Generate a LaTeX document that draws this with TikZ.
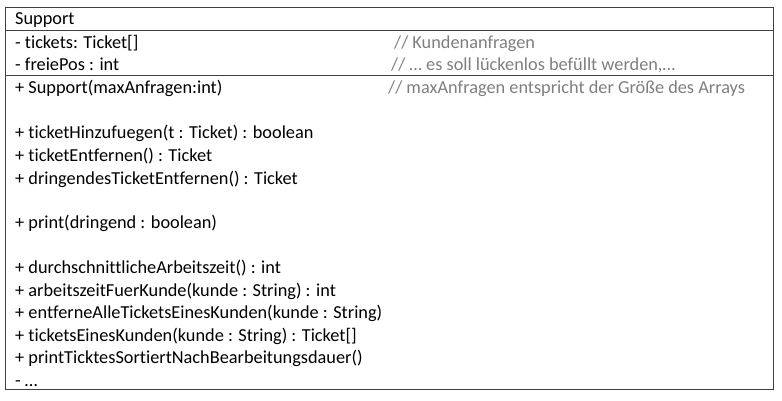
\documentclass[tikz,border=0pt]{standalone}
\usepackage{fontspec}
\setmainfont[Ligatures=NoCommon]{Carlito}
\definecolor{frame}{HTML}{3F3F3F}
\definecolor{remark}{HTML}{7F7F7F}
\begin{document}
\begin{tikzpicture}[x=1pt,y=-1pt,
  member/.style={anchor=base west,inner sep=0pt,font=\fontsize{18.3}{20}\selectfont},
  remarktext/.style={member,text=remark},
  border/.style={draw=frame,line width=1.3pt}]
\useasboundingbox (0,0) rectangle (782,401);
\fill[white] (0,0) rectangle (782,401);
% class frame and compartments
\coordinate (tl) at (5.5,7.5);
\coordinate (br) at (773.5,389.5);
\draw[border] (tl) rectangle (br);
\draw[border,line width=1pt] (5.5,31) -- (773.5,31);
\draw[border,line width=1pt] (5.5,76) -- (773.5,76);
% class name
\node[member] (name) at (15,25) {Support};
% attributes
\node[member] (a1) at (15,49) {- tickets: Ticket[]};
\node[member] (a2) at (15,71) {- freiePos : int};
\node[remarktext] (c1) at (394,49) {// Kundenanfragen};
\node[remarktext] (c2) at (391,71) {// … es soll lückenlos befüllt werden,…};
% operations
\node[member] (m1) at (15,94) {+ Support(maxAnfragen:int)};
\node[remarktext] (c3) at (388,94) {// maxAnfragen entspricht der Größe des Arrays};
\node[member] (m2) at (15,139) {+ ticketHinzufuegen(t : Ticket) : boolean};
\node[member] (m3) at (15,162) {+ ticketEntfernen() : Ticket};
\node[member] (m4) at (15,184) {+ dringendesTicketEntfernen() : Ticket};
\node[member] (m5) at (15,228) {+ print(dringend : boolean)};
\node[member] (m6) at (15,273) {+ durchschnittlicheArbeitszeit() : int};
\node[member] (m7) at (15,296) {+ arbeitszeitFuerKunde(kunde : String) : int};
\node[member] (m8) at (15,318) {+ entferneAlleTicketsEinesKunden(kunde : String)};
\node[member] (m9) at (15,341) {+ ticketsEinesKunden(kunde : String) : Ticket[]};
\node[member] (m10) at (15,363) {+ printTicktesSortiertNachBearbeitungsdauer()};
\node[member] (m11) at (15,386) {- …};
\end{tikzpicture}
\end{document}
